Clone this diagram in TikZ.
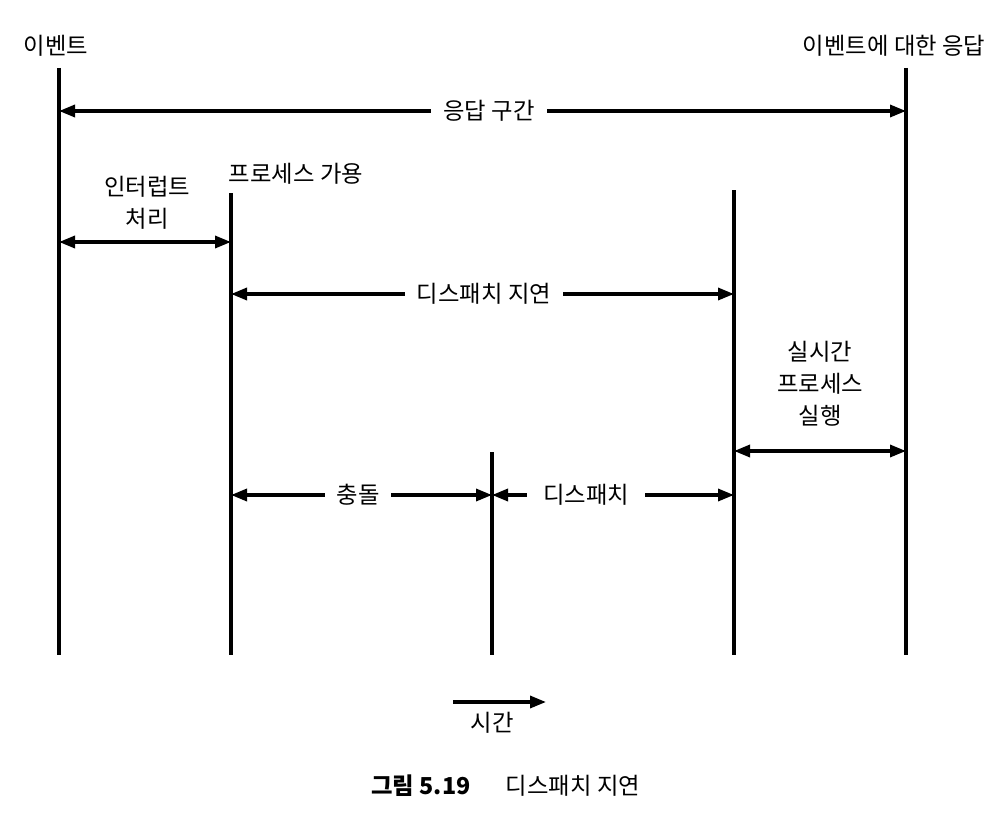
\documentclass[tikz,border=0pt]{standalone}
\usepackage{fontspec}
\setmainfont{Noto Sans CJK KR}
\usetikzlibrary{arrows.meta}
\begin{document}
\begin{tikzpicture}[x=0.75pt,y=-0.75pt,
  vline/.style={line width=2.3pt},
  span/.style={line width=2.5pt,{Triangle[length=12pt,width=9pt]}-{Triangle[length=12pt,width=9pt]}},
  oneway/.style={line width=2.5pt,-{Triangle[length=12pt,width=9pt]}},
  lbl/.style={font=\fontsize{17.5}{21}\selectfont, inner sep=0pt},
  gaplbl/.style={lbl, fill=white, inner xsep=9pt, inner ysep=4pt},
  stack/.style={lbl, align=center, font=\fontsize{17.5}{24}\selectfont}]
\useasboundingbox (0,0) rectangle (1002,820);
% vertical time marks
\coordinate (a1) at (59,68);   \coordinate (a2) at (59,655);
\coordinate (b1) at (231,193); \coordinate (b2) at (231,655);
\coordinate (c1) at (492,452); \coordinate (c2) at (492,655);
\coordinate (d1) at (734,190); \coordinate (d2) at (734,655);
\coordinate (e1) at (906,68);  \coordinate (e2) at (906,655);
\draw[vline] (a1) -- (a2);
\draw[vline] (b1) -- (b2);
\draw[vline] (c1) -- (c2);
\draw[vline] (d1) -- (d2);
\draw[vline] (e1) -- (e2);
% top labels
\node[lbl] (ev) at (56,46) {이벤트};
\node[lbl] (resp) at (894,46) {이벤트에 대한 응답};
\node[lbl] (avail) at (296,174) {프로세스 가용};
% response interval
\coordinate (r1) at (59,111); \coordinate (r2) at (906,111);
\draw[span] (r1) -- (r2);
\node[gaplbl] (rl) at (489,111) {응답 구간};
% interrupt processing
\coordinate (i1) at (59,242); \coordinate (i2) at (231,242);
\draw[span] (i1) -- (i2);
\node[stack] (il) at (147,203) {인터럽트\\처리};
% dispatch latency
\coordinate (dl1) at (231,294); \coordinate (dl2) at (734,294);
\draw[span] (dl1) -- (dl2);
\node[gaplbl] (dll) at (484,294) {디스패치 지연};
% real-time process execution
\coordinate (x1) at (734,451); \coordinate (x2) at (906,451);
\draw[span] (x1) -- (x2);
\node[stack] (xl) at (820,384) {실시간\\프로세스\\실행};
% conflict
\coordinate (k1) at (231,495); \coordinate (k2) at (492,495);
\draw[span] (k1) -- (k2);
\node[gaplbl] (kl) at (358,495) {충돌};
% dispatch
\coordinate (p1) at (492,495); \coordinate (p2) at (734,495);
\draw[span] (p1) -- (p2);
\node[gaplbl, inner xsep=12pt] (pl) at (586,495) {디스패치};
% time arrow
\coordinate (t1) at (453,702); \coordinate (t2) at (546,702);
\draw[oneway] (t1) -- (t2);
\node[lbl] (tl) at (492,723) {시간};
% caption
\node[lbl, font=\fontsize{17.5}{21}\selectfont\bfseries] (cap1) at (421,786) {그림 5.19};
\node[lbl] (cap2) at (573,786) {디스패치 지연};
\end{tikzpicture}
\end{document}
